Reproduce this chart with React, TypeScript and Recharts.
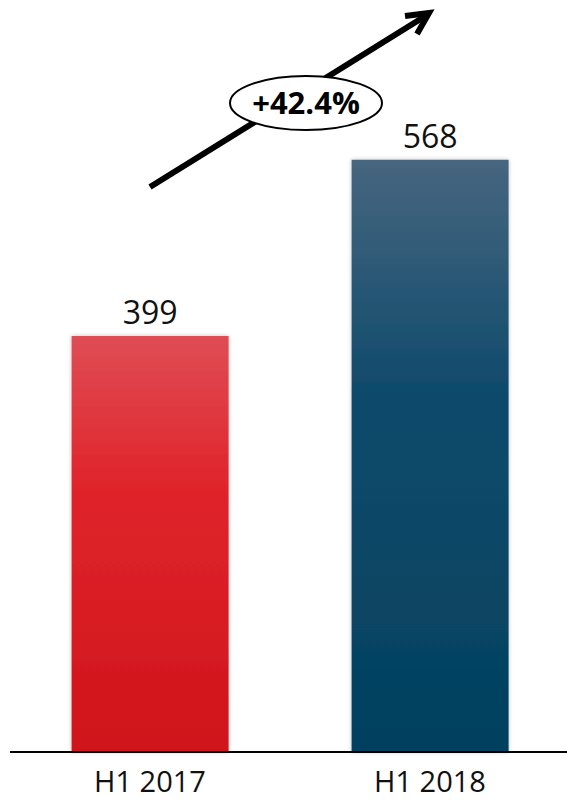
import { Bar, BarChart, Cell, LabelList, XAxis, YAxis } from "recharts";

// values
const periods = ["H1 2017", "H1 2018"];
const revenue = [399, 568];
const growthLabel = "+42.4%";

const barFills = ["url(#grad-red)", "url(#grad-blue)"];

const data = periods.map((p, i) => ({ period: p, value: revenue[i] }));

const W = 567;
const H = 804;
const FONT = "'Open Sans', 'Noto Sans', sans-serif";

function PeriodTick(props: any) {
  const { x, y, payload } = props;
  return (
    <text
      x={x}
      y={y + 32}
      textAnchor="middle"
      fontSize={29}
      fontFamily={FONT}
      fill="#111"
    >
      {payload.value}
    </text>
  );
}

export default function App() {
  return (
    <div style={{ position: "absolute", left: 0, top: 0, width: W, height: H, background: "#fff" }}>
      <BarChart
        width={W}
        height={H}
        data={data}
        margin={{ top: 22, right: -3, left: 10, bottom: 0 }}
        barCategoryGap="22%"
      >
        <defs>
          <linearGradient id="grad-red" x1="0" y1="0" x2="0" y2="1">
            <stop offset="0%" stopColor="#df4d55" />
            <stop offset="35%" stopColor="#e0252c" />
            <stop offset="100%" stopColor="#cf141a" />
          </linearGradient>
          <linearGradient id="grad-blue" x1="0" y1="0" x2="0" y2="1">
            <stop offset="0%" stopColor="#47667f" />
            <stop offset="40%" stopColor="#0e4a6b" />
            <stop offset="100%" stopColor="#03415f" />
          </linearGradient>
          <filter id="bar-shadow" x="-10%" y="-5%" width="120%" height="110%">
            <feDropShadow dx="0" dy="0" stdDeviation="2" floodColor="#000" floodOpacity="0.25" />
          </filter>
        </defs>
        <XAxis
          dataKey="period"
          height={52}
          tickLine={false}
          axisLine={{ stroke: "#000", strokeWidth: 2 }}
          tick={<PeriodTick />}
          interval={0}
        />
        <YAxis hide domain={[0, 700]} />
        <Bar dataKey="value" isAnimationActive={false} style={{ filter: "url(#bar-shadow)" }}>
          {data.map((d, i) => (
            <Cell key={d.period} fill={barFills[i]} />
          ))}
          <LabelList
            dataKey="value"
            position="top"
            offset={12}
            fontSize={32}
            fontFamily={FONT}
            fill="#111"
          />
        </Bar>
      </BarChart>

      {/* growth arrow + badge */}
      <svg
        width={W}
        height={H}
        style={{ position: "absolute", left: 0, top: 0, pointerEvents: "none" }}
      >
        <line x1={150} y1={187} x2={427} y2={15} stroke="#000" strokeWidth={6} />
        <polyline
          points="405,16 429,13 417,34"
          fill="none"
          stroke="#000"
          strokeWidth={6}
          strokeLinejoin="miter"
        />
        <ellipse cx={306} cy={103} rx={76} ry={27} fill="#fff" stroke="#000" strokeWidth={2} />
        <text
          x={306}
          y={114}
          textAnchor="middle"
          fontSize={31}
          fontWeight={700}
          fontFamily={FONT}
          fill="#000"
        >
          {growthLabel}
        </text>
      </svg>
    </div>
  );
}
